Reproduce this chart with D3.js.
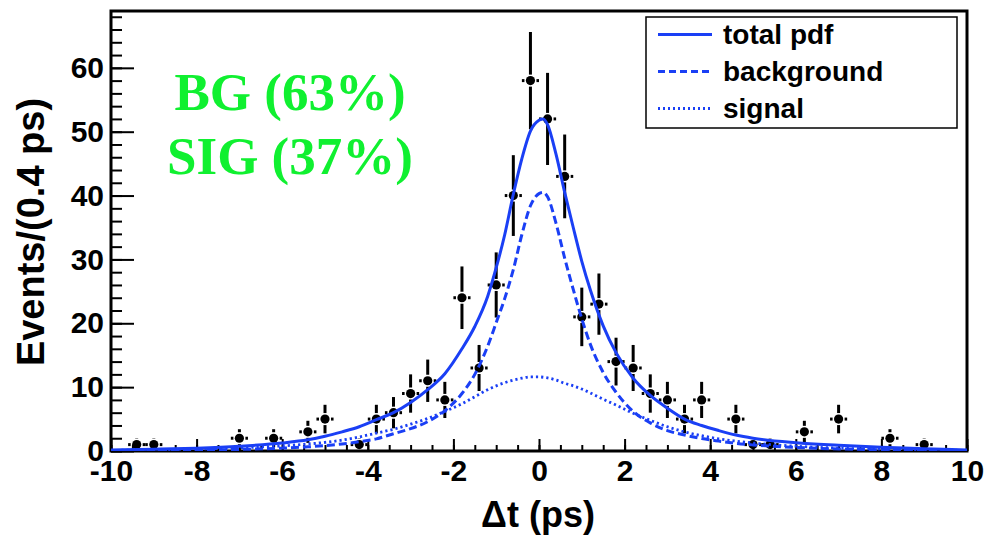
<!DOCTYPE html>
<html><head><meta charset="utf-8">
<script src="https://cdn.jsdelivr.net/npm/d3@7"></script>
<style>body{margin:0;background:#fff}</style>
</head><body>
<svg id="c" width="989" height="536"></svg>
<script>
// ---- data ----
const binCenters = [-9.4,-9.0,-7.0,-6.2,-5.4,-5.0,-4.2,-3.8,-3.4,-3.0,-2.6,-2.2,-1.8,-1.4,-1.0,-0.6,-0.2,0.2,0.6,1.0,1.4,1.8,2.2,2.6,3.0,3.4,3.8,4.6,5.0,5.4,6.2,7.0,8.2,9.0];
const counts     = [1,1,2,2,3,5,1,5,6,9,11,8,24,13,26,40,58,52,43,21,23,14,13,9,8,5,8,5,1,1,3,5,2,1];

const curveX        = [-10,-9,-8,-7,-6,-5.4,-5,-4.6,-4.2,-3.8,-3.4,-3.0,-2.6,-2.2,-1.8,-1.5,-1.2,-1.0,-0.8,-0.6,-0.4,-0.2,0,0.1,0.2,0.4,0.6,0.8,1.0,1.2,1.5,1.8,2.2,2.6,3.0,3.4,3.8,4.2,4.6,5.0,6.0,7.0,8.0,9.0,10];
const totalPdf      = [0.15,0.27,0.45,0.75,1.25,1.75,2.3,3.0,3.8,4.9,6.0,7.6,9.6,12.1,16.0,19.5,24.2,28.7,33.9,40.2,45.8,50.1,51.8,52.0,51.1,46.4,40.5,35.0,29.7,25.2,19.6,15.4,11.4,8.7,6.7,5.0,4.0,3.2,2.5,2.0,1.3,0.9,0.57,0.35,0.15];
const backgroundPdf = [0.05,0.09,0.15,0.25,0.45,0.65,0.85,1.1,1.45,1.9,2.7,3.5,4.6,6.3,9.0,12.0,16.4,20.1,23.9,28.4,33.9,38.4,40.3,40.5,39.8,35.6,30.2,25.3,20.7,16.7,12.3,9.2,6.2,4.4,3.2,2.5,1.95,1.55,1.2,0.95,0.55,0.33,0.2,0.12,0.05];
const signalPdf     = [0.1,0.18,0.3,0.5,0.8,1.1,1.35,1.7,2.2,2.8,3.4,4.2,5.1,6.2,7.4,8.5,9.6,10.2,10.7,11.1,11.4,11.6,11.6,11.55,11.45,11.1,10.6,10.2,9.7,9.1,8.1,7.2,5.9,4.8,3.8,3.0,2.4,1.9,1.55,1.25,0.75,0.45,0.28,0.17,0.1];

const xTickValues = [-10,-8,-6,-4,-2,0,2,4,6,8,10];
const xTickLabels = ["-10","-8","-6","-4","-2","0","2","4","6","8","10"];
const yTickValues = [0,10,20,30,40,50,60];
const yTickLabels = ["0","10","20","30","40","50","60"];
const legendLabels = ["total pdf","background","signal"];
const annotationLines = ["BG (63%)","SIG (37%)"];
const xTitle = "\u0394t (ps)";
const yTitle = "Events/(0.4 ps)";

// ---- layout ----
const svg = d3.select("#c");
const m = {l:111, r:967, t:11, b:451};
const x = d3.scaleLinear().domain([-10,10]).range([m.l,m.r]);
const y = d3.scaleLinear().domain([0,68.9]).range([m.b,m.t]);
const BLUE = "#1a3ff5";
const SANS = "'Liberation Sans', Arial, Helvetica, sans-serif";

svg.append("rect").attr("width",989).attr("height",536).attr("fill","#fff");

svg.append("defs").append("clipPath").attr("id","clip")
  .append("rect").attr("x",m.l).attr("y",m.t).attr("width",m.r-m.l).attr("height",m.b-m.t);

// axes: minor ticks
const gxMinor = svg.append("g").attr("transform",`translate(0,${m.b})`)
  .call(d3.axisBottom(x).tickValues(d3.range(0,41).map(i=>-10+i*0.5)).tickSizeInner(-6).tickSizeOuter(0).tickFormat(""));
const gyMinor = svg.append("g").attr("transform",`translate(${m.l},0)`)
  .call(d3.axisLeft(y).tickValues(d3.range(0,35).map(i=>i*2)).tickSizeInner(-11).tickSizeOuter(0).tickFormat(""));
// major
const gx = svg.append("g").attr("transform",`translate(0,${m.b})`)
  .call(d3.axisBottom(x).tickValues(xTickValues).tickSizeInner(-12).tickSizeOuter(0).tickPadding(9)
    .tickFormat((d,i)=>xTickLabels[i]));
const gy = svg.append("g").attr("transform",`translate(${m.l},0)`)
  .call(d3.axisLeft(y).tickValues(yTickValues).tickSizeInner(-23).tickSizeOuter(0).tickPadding(7)
    .tickFormat((d,i)=>yTickLabels[i]));
[gxMinor,gyMinor,gx,gy].forEach(g=>{
  g.select(".domain").remove();
  g.selectAll(".tick line").attr("stroke","#000").attr("stroke-width",2);
  g.selectAll("text").attr("fill","#000").attr("font-family",SANS).attr("font-weight","bold").attr("font-size",30);
});

// frame
svg.append("rect").attr("x",m.l).attr("y",m.t).attr("width",m.r-m.l).attr("height",m.b-m.t)
  .attr("fill","none").attr("stroke","#000").attr("stroke-width",3);

// titles
svg.append("text").attr("x",538).attr("y",527).attr("text-anchor","middle")
  .attr("font-family",SANS).attr("font-weight","bold").attr("font-size",36).text(xTitle);
svg.append("text").attr("transform","translate(44,232) rotate(-90)").attr("text-anchor","middle")
  .attr("font-family",SANS).attr("font-weight","bold").attr("font-size",38).text(yTitle);

// data points with error bars
const pts = binCenters.map((c,i)=>({x:c,n:counts[i],e:Math.sqrt(counts[i])}));
const gp = svg.append("g");
const GAP = 6;
pts.forEach(p=>{
  const cx = x(p.x), cy = y(p.n);
  const top = y(p.n+p.e), bot = y(p.n-p.e);
  if (cy-GAP > top) gp.append("line").attr("x1",cx).attr("x2",cx).attr("y1",top).attr("y2",cy-GAP).attr("stroke","#000").attr("stroke-width",3);
  if (bot > cy+GAP) gp.append("line").attr("x1",cx).attr("x2",cx).attr("y1",cy+GAP).attr("y2",Math.min(bot,m.b)).attr("stroke","#000").attr("stroke-width",3);
  const xl = x(p.x-0.2), xr = x(p.x+0.2);
  gp.append("line").attr("x1",xl).attr("x2",cx-GAP).attr("y1",cy).attr("y2",cy).attr("stroke","#000").attr("stroke-width",3);
  gp.append("line").attr("x1",cx+GAP).attr("x2",xr).attr("y1",cy).attr("y2",cy).attr("stroke","#000").attr("stroke-width",3);
  gp.append("circle").attr("cx",cx).attr("cy",cy).attr("r",4.6).attr("fill","#000");
});

// curves
const line = d3.line().x(d=>x(d[0])).y(d=>y(d[1])).curve(d3.curveMonotoneX);
const gc = svg.append("g").attr("clip-path","url(#clip)");
gc.append("path").datum(curveX.map((v,i)=>[v,signalPdf[i]])).attr("d",line)
  .attr("fill","none").attr("stroke",BLUE).attr("stroke-width",2.8).attr("stroke-dasharray","2.2,3");
gc.append("path").datum(curveX.map((v,i)=>[v,backgroundPdf[i]])).attr("d",line)
  .attr("fill","none").attr("stroke",BLUE).attr("stroke-width",3).attr("stroke-dasharray","8,4");
gc.append("path").datum(curveX.map((v,i)=>[v,totalPdf[i]])).attr("d",line)
  .attr("fill","none").attr("stroke",BLUE).attr("stroke-width",3);

// legend
const lg = svg.append("g");
lg.append("rect").attr("x",646).attr("y",17).attr("width",311).attr("height",111)
  .attr("fill","#fff").attr("stroke","#000").attr("stroke-width",1.5);
const dashes = [null,"7,4","2,3"];
legendLabels.forEach((t,i)=>{
  const yy = 34.5 + i*37;
  const l = lg.append("line").attr("x1",658).attr("x2",712).attr("y1",yy).attr("y2",yy)
    .attr("stroke",BLUE).attr("stroke-width",3);
  if (dashes[i]) l.attr("stroke-dasharray",dashes[i]);
  lg.append("text").attr("x",723).attr("y",yy).attr("dy","0.35em")
    .attr("font-family",SANS).attr("font-weight","bold").attr("font-size",28).text(t);
});

// annotation
annotationLines.forEach((t,i)=>{
  svg.append("text").attr("x",290).attr("y",110 + i*63.5).attr("text-anchor","middle")
    .attr("font-family","'Liberation Serif','Times New Roman',serif").attr("font-weight","bold")
    .attr("font-size",53).attr("fill","#10f030").text(t);
});
</script>
</body></html>
